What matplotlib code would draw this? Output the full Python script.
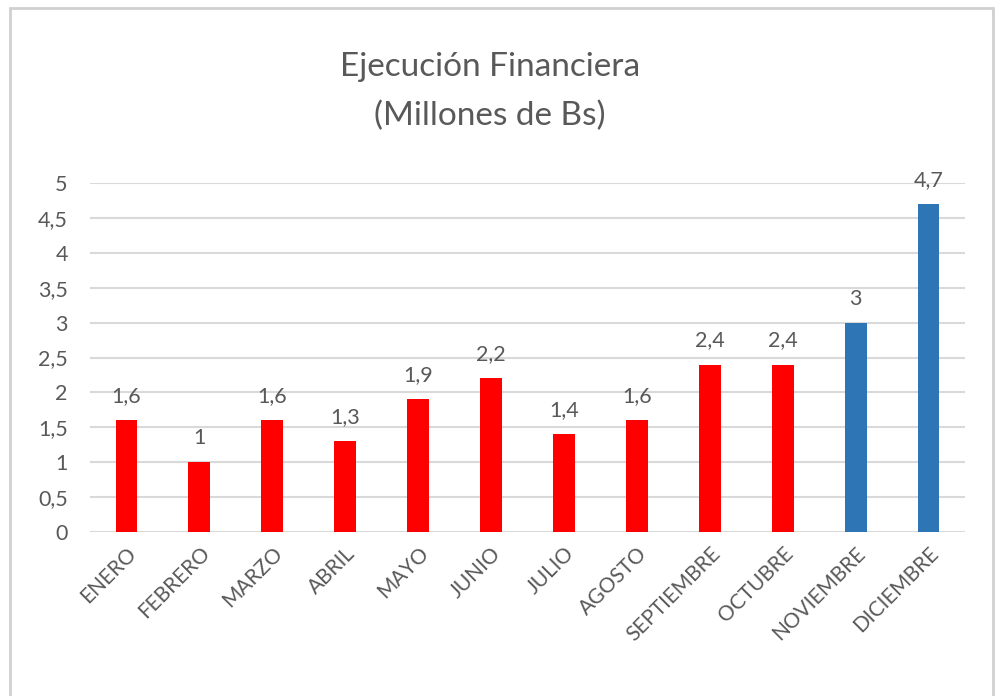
import matplotlib
matplotlib.use("Agg")
import matplotlib.pyplot as plt
from matplotlib.patches import Rectangle

# Data
months = ["ENERO", "FEBRERO", "MARZO", "ABRIL", "MAYO", "JUNIO", "JULIO",
          "AGOSTO", "SEPTIEMBRE", "OCTUBRE", "NOVIEMBRE", "DICIEMBRE"]
values = [1.6, 1.0, 1.6, 1.3, 1.9, 2.2, 1.4, 1.6, 2.4, 2.4, 3.0, 4.7]
colors = ["#ff0000"] * 10 + ["#2e75b6"] * 2
yticks = [0, 0.5, 1, 1.5, 2, 2.5, 3, 3.5, 4, 4.5, 5]

plt.rcParams['font.family'] = ['Lato', 'DejaVu Sans']
TXT = "#595959"

fig = plt.figure(figsize=(10, 6.96), dpi=100)
ax = fig.add_axes([0.09, 0.2356, 0.875, 0.5014])

# chart border
fig.patches.append(Rectangle((0.010, -0.01), 0.983, 0.999, transform=fig.transFigure,
                             fill=False, edgecolor="#d0d0d0", linewidth=2))

x = range(len(months))
bars = ax.bar(x, values, width=0.3, color=colors, zorder=3)

def fmt(v):
    s = f"{v:g}"
    return s.replace(".", ",")

for xi, v in zip(x, values):
    ax.text(xi, v + 0.2, fmt(v), ha="center", va="bottom", fontsize=15.5, color=TXT)

ax.set_xlim(-0.5, len(months) - 0.5)
ax.set_ylim(0, 5)
ax.set_yticks(yticks)
ax.set_yticklabels([fmt(t) for t in yticks], fontsize=15.5, color=TXT)
ax.set_xticks(list(x))
ax.set_xticklabels(months, rotation=45, ha="right", rotation_mode="anchor",
                   fontsize=15, color=TXT)
ax.tick_params(axis="both", length=0, pad=8)
ax.tick_params(axis="y", pad=16)
ax.grid(axis="y", color="#d9d9d9", linewidth=1.5, zorder=0)
for s in ax.spines.values():
    s.set_visible(False)

fig.text(0.49, 0.868, "Ejecución Financiera\n(Millones de Bs)", ha="center", va="center",
         fontsize=24, color=TXT, linespacing=1.75)

fig.savefig("out.png", dpi=100)
